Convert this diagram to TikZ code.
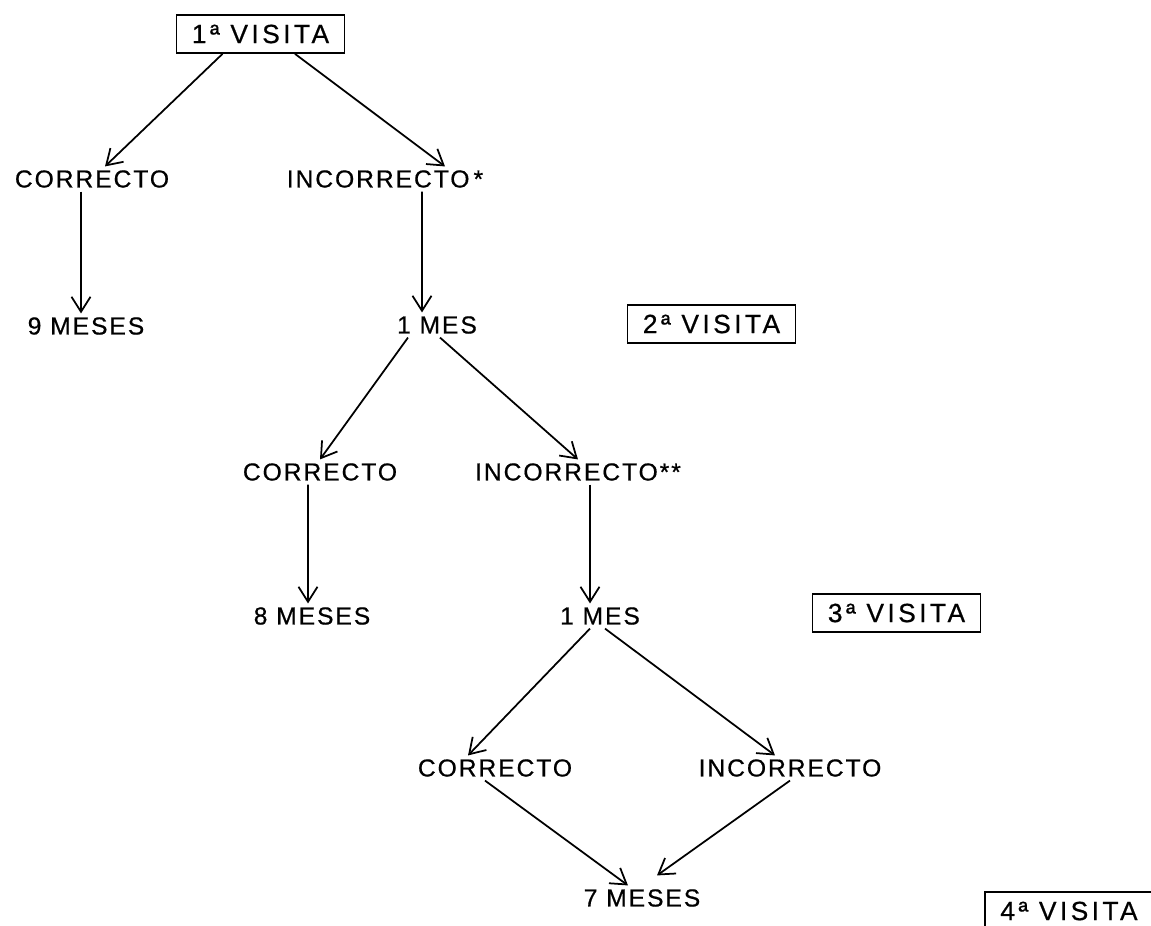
\documentclass[tikz,border=0pt]{standalone}
\usepackage{fontspec}
\setmainfont{Liberation Sans}[FakeBold=0.6]
\usepackage{tikz}
\usetikzlibrary{arrows.meta}
\tikzstyle{visita} = [draw, line width=1pt, minimum width=3.36cm, minimum height=0.76cm, inner sep=0pt, font=\fontsize{15}{18}\selectfont\addfontfeature{LetterSpace=13}]
\tikzstyle{estado} = [inner sep=2pt, font=\fontsize{14}{17}\selectfont\addfontfeature{LetterSpace=8}]

\begin{document}
\begin{tikzpicture}[>={Straight Barb[length=3mm,width=3.8mm]},node distance=3cm]
  \useasboundingbox (0,0) rectangle (23.02,-18.52);
  \node[visita] (v1) at (5.21,-0.68) {1ª VISITA};
  \node[estado,below of=v1,node distance=2.9cm,xshift=-3.37cm] (c1) {CORRECTO};
  \node[estado,right of=c1,node distance=5.86cm] (i1) {INCORRECTO\,*};
  \node[estado,below of=c1,node distance=2.94cm,xshift=-0.12cm] (m9) {9 MESES};
  \node[estado,below of=i1,node distance=2.92cm,xshift=1.04cm] (mes1) {1 MES};
  \node[visita,right of=mes1,node distance=5.49cm,yshift=0.02cm] (v2) {2ª VISITA};

  \node[estado,below of=mes1,node distance=2.94cm,xshift=-2.34cm] (c2) {CORRECTO};
  \node[estado,right of=c2,node distance=5.16cm] (i2) {INCORRECTO**};
  \node[estado,below of=c2,node distance=2.88cm,xshift=-0.16cm] (m8) {8 MESES};
  \node[estado,below of=i2,node distance=2.88cm,xshift=0.44cm] (mes2) {1 MES};
  \node[visita,right of=mes2,node distance=5.93cm,yshift=0.06cm] (v3) {3ª VISITA};

  \node[estado,below of=mes2,node distance=3.04cm,xshift=-2.1cm] (c3) {CORRECTO};
  \node[estado,right of=c3,node distance=5.9cm] (i3) {INCORRECTO};
  \node[estado,below of=c3,node distance=2.6cm,xshift=2.94cm] (m7) {7 MESES};
  \node[visita,right of=m7,node distance=8.54cm,yshift=-0.26cm] (v4) {4ª VISITA};

  \begin{scope}[every path/.style=draw,line width=1pt]
    \path[->] ([xshift=-0.76cm]v1.south) -- ([xshift=0.26cm]c1.north);
    \path[->] ([xshift=0.69cm]v1.south) -- ([xshift=1.2cm]i1.north);
    \path[->] ([xshift=-0.22cm]c1.south) -- ([xshift=-0.1cm]m9.north);
    \path[->] ([xshift=0.74cm]i1.south) -- ([xshift=-0.3cm]mes1.north);

    \path[->] ([xshift=-0.58cm]mes1.south) -- (c2.north);
    \path[->] ([xshift=0.06cm]mes1.south) -- (i2.north);
    \path[->] ([xshift=-0.24cm]c2.south) -- ([xshift=-0.08cm]m8.north);
    \path[->] ([xshift=0.24cm]i2.south) -- ([xshift=-0.2cm]mes2.north);

    \path[->] ([xshift=-0.2cm]mes2.south) -- ([xshift=-0.54cm]c3.north);
    \path[->] ([xshift=0.1cm]mes2.south) -- ([xshift=-0.3cm]i3.north);
    \path[->] ([xshift=-0.2cm]c3.south) -- ([xshift=-0.28cm]m7.north);
    \path[->] (i3.south) -- ([xshift=0.3cm,yshift=0.2cm]m7.north);
  \end{scope}
\end{tikzpicture}
\end{document}
